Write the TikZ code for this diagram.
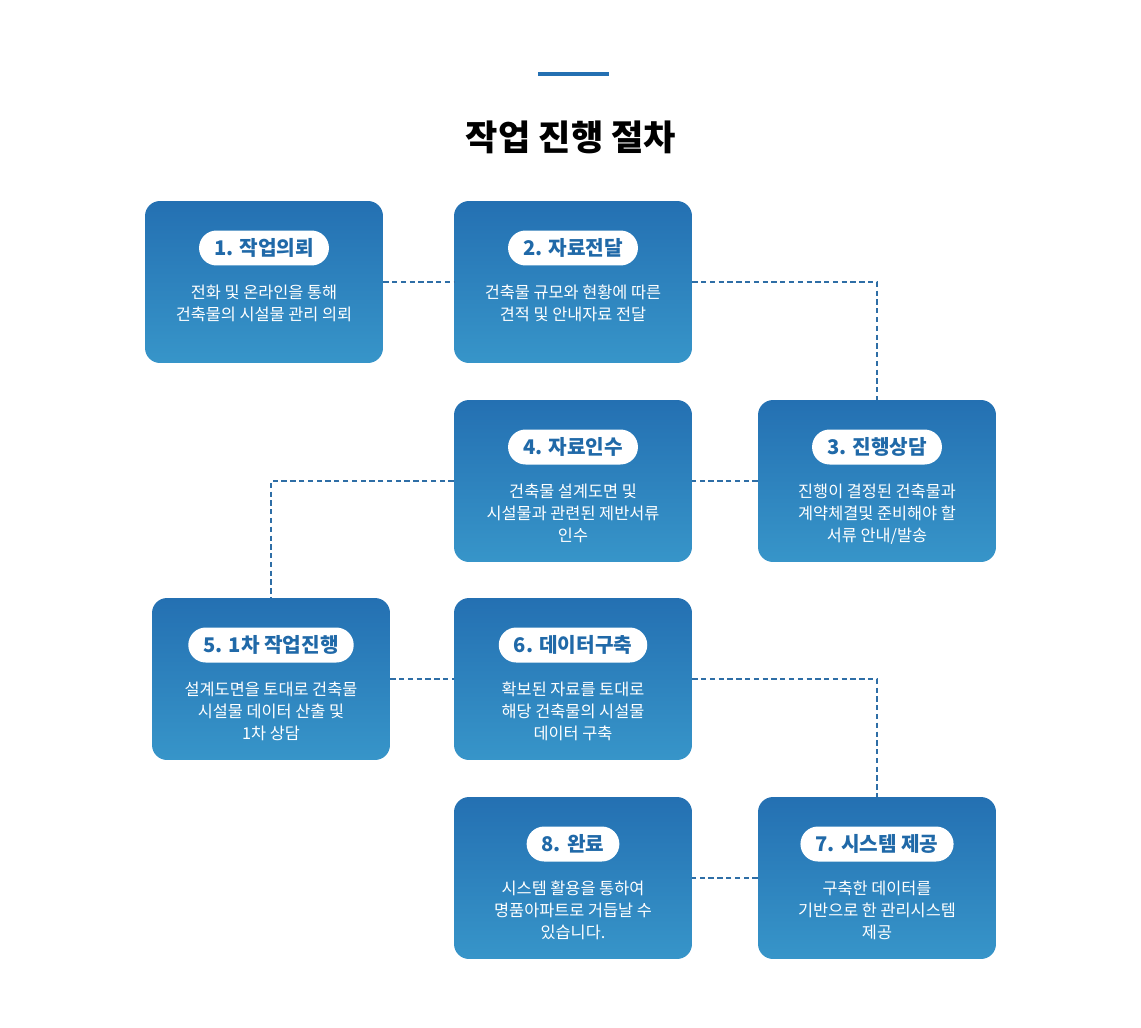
\documentclass[tikz,border=0pt]{standalone}
\usepackage{fontspec}
\setmainfont{Noto Sans CJK KR}
\usetikzlibrary{positioning}
\definecolor{boxtop}{HTML}{2470B2}
\definecolor{boxbot}{HTML}{3795C9}
\definecolor{pilltext}{HTML}{2069A8}
\definecolor{linkblue}{HTML}{2E6EA6}
\tikzset{
  stepbox/.style={rounded corners=0.3cm,top color=boxtop,bottom color=boxbot,draw=none,
    minimum width=4.76cm,minimum height=3.24cm},
  pill/.style={fill=white,rounded corners=0.35cm,minimum height=0.7cm,inner xsep=0.3cm,
    text=pilltext,font=\bfseries\fontsize{11.5}{13}\selectfont},
  desc/.style={text=white,align=center,font=\fontsize{9.3}{12.5}\selectfont},
  link/.style={linkblue,densely dashed,line width=0.6pt}
}
\begin{document}
\begin{tikzpicture}[x=0.02cm,y=-0.02cm]
\useasboundingbox (0,0) rectangle (1141,1027);
\draw[boxtop,line width=2.2pt] (538,74) -- (609,74);
\node[font=\bfseries\fontsize{20}{24}\selectfont] (title) at (571,137) {작업 진행 절차};
% steps
\node[stepbox] (b1) at (264,282) {};
\node[stepbox] (b2) at (573,282) {};
\node[stepbox] (b3) at (877,481) {};
\node[stepbox] (b4) at (573,481) {};
\node[stepbox] (b5) at (271,679) {};
\node[stepbox] (b6) at (573,679) {};
\node[stepbox] (b7) at (877,878) {};
\node[stepbox] (b8) at (573,878) {};
% labels
\node[pill] (p1) at (264,248) {1. 작업의뢰};
\node[pill] (p2) at (573,248) {2. 자료전달};
\node[pill] (p3) at (877,447) {3. 진행상담};
\node[pill] (p4) at (573,447) {4. 자료인수};
\node[pill] (p5) at (271,645) {5. 1차 작업진행};
\node[pill] (p6) at (573,645) {6. 데이터구축};
\node[pill] (p7) at (877,844) {7. 시스템 제공};
\node[pill] (p8) at (573,844) {8. 완료};
\node[desc,below=0.25cm of p1] (t1) {전화 및 온라인을 통해\\건축물의 시설물 관리 의뢰};
\node[desc,below=0.25cm of p2] (t2) {건축물 규모와 현황에 따른\\견적 및 안내자료 전달};
\node[desc,below=0.25cm of p3] (t3) {진행이 결정된 건축물과\\계약체결및 준비해야 할\\서류 안내/발송};
\node[desc,below=0.25cm of p4] (t4) {건축물 설계도면 및\\시설물과 관련된 제반서류\\인수};
\node[desc,below=0.25cm of p5] (t5) {설계도면을 토대로 건축물\\시설물 데이터 산출 및\\1차 상담};
\node[desc,below=0.25cm of p6] (t6) {확보된 자료를 토대로\\해당 건축물의 시설물\\데이터 구축};
\node[desc,below=0.25cm of p7] (t7) {구축한 데이터를\\기반으로 한 관리시스템\\제공};
\node[desc,below=0.25cm of p8] (t8) {시스템 활용을 통하여\\명품아파트로 거듭날 수\\있습니다.};
% links
\draw[link] (b1.east) -- (b2.west);
\draw[link] (b2.east) -| (b3.north);
\draw[link] (b3.west) -- (b4.east);
\draw[link] (b4.west) -| (b5.north);
\draw[link] (b5.east) -- (b6.west);
\draw[link] (b6.east) -| (b7.north);
\draw[link] (b7.west) -- (b8.east);
\end{tikzpicture}
\end{document}
